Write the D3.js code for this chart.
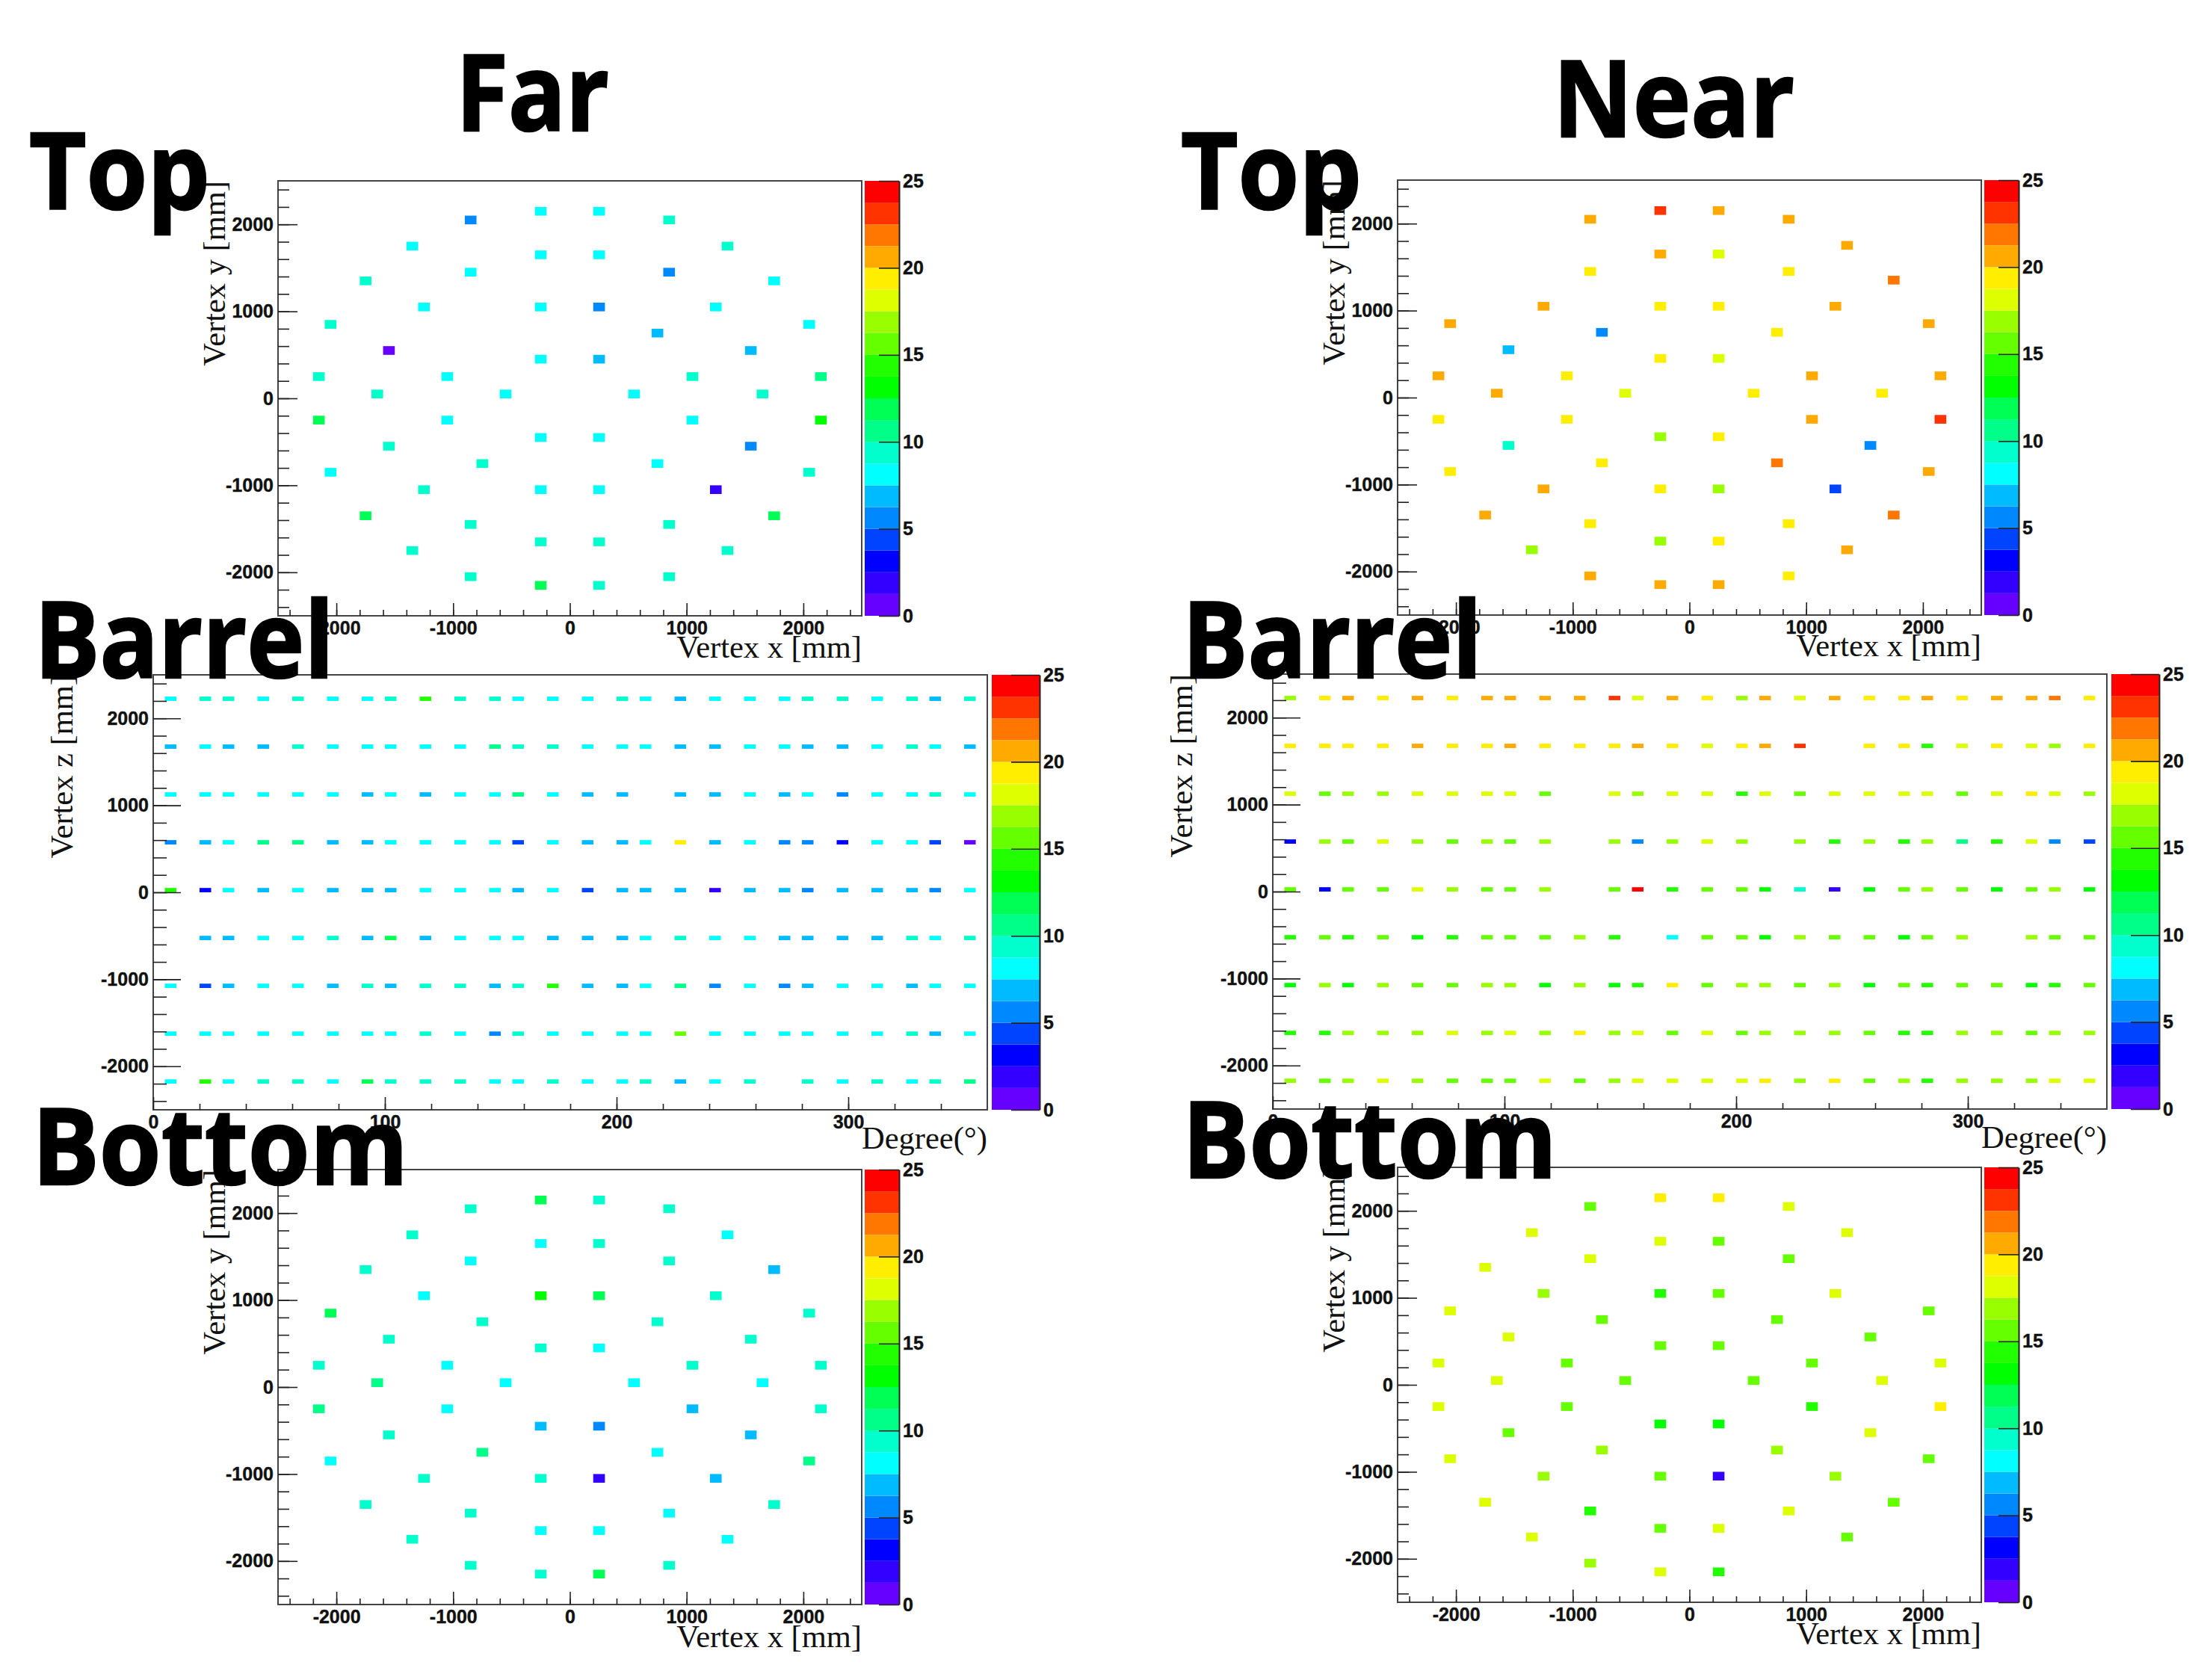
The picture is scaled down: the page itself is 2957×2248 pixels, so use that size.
<!DOCTYPE html>
<html>
<head>
<meta charset="utf-8">
<title>Far / Near vertex maps</title>
<script src="https://cdn.jsdelivr.net/npm/d3@7"></script>
<style>
body { margin: 0; background: #fff; }
svg { display: block; }
.tick text { font-family: "Liberation Sans", Arial, sans-serif; font-weight: bold; font-size: 25px; fill: #111; stroke: #111; stroke-width: 0.4; }
.tick line { stroke: #222; stroke-width: 1.6; }
.title { font-family: "Liberation Serif", "Times New Roman", serif; font-size: 42.5px; fill: #111; }
.big { font-family: "Open Sans", sans-serif; font-weight: 700; font-size: 142px; fill: #000; stroke: #000; stroke-width: 2.5; }
</style>
</head>
<body>
<script>
// colour bar bands, bottom to top
var palette = ["#6600ff","#3300ff","#0000ff","#0044ff","#0088ff","#00bbff","#00ffff","#00ffcc","#00ff88","#00ff55",
    "#00ff00","#22ff00","#66ff00","#99ff00","#ddff00","#ffee00","#ffaa00","#ff7700","#ff3300","#ff0000"];
var colorTicks = [0, 5, 10, 15, 20, 25];

// PMT layout on the top and bottom discs (mm)
var discRowY = [2150, 2050, 1750, 1650, 1450, 1350, 1050, 850, 750, 550, 450, 250, 50,
    -250, -450, -550, -750, -850, -1050, -1350, -1450, -1650, -1750, -2050, -2150];
var discRowX = [[-250,250],[-850,850],[-1350,1350],[-250,250],[-850,850],[-1750,1750],[-1250,-250,250,1250],
    [-2050,2050],[-750,750],[-1550,1550],[-250,250],[-2150,-1050,1050,2150],[-1650,-550,550,1650],
    [-2150,-1050,1050,2150],[-250,250],[-1550,1550],[-750,750],[-2050,2050],[-1250,-250,250,1250],
    [-1750,1750],[-850,850],[-250,250],[-1350,1350],[-850,850],[-250,250]];

var farTop = [[8,8],[5.6,9.4],[8,9.4],[8,8],[8,5.6],[9.4,8],[8,8,5.6,8],
    [9.4,8],[null,7],[0.6,7],[8,7],[9.4,8,9.4,10.6],[9.4,8,8,9.4],
    [12,8,8,13],[8,8],[9.4,5.6],[9.4,8],[8,9.4],[9.4,8,8,2],
    [12,12],[9.4,9.4],[9.4,9.4],[9.4,9.4],[9.4,9.4],[12,9.4]];
var nearTop = [[23,20.6],[20.6,20.6],[null,20.6],[20.6,18],[19.4,19.4],[null,22],[20.6,19.4,19.4,20.6],
    [20.6,20.6],[5.6,19.4],[7,null],[19.4,18],[20.6,19.4,20.6,20.6],[20.6,18,19.4,19.4],
    [19.4,19.4,20.6,23],[17,19],[9.4,5.6],[19.4,22],[19.4,20.6],[20.6,19.4,17,4.4],
    [20.6,22],[19.4,19.4],[17,19],[17,20.6],[20.6,19.4],[20.6,20.6]];
var farBottom = [[12,9.4],[9.4,9.4],[9.4,8],[8,9.4],[8,9.4],[9.4,7],[8,12.6,12,9.4],
    [12,9.4],[9.4,9.4],[9.4,9.4],[9.4,8],[9.4,8,9.4,9.4],[11,8,8,8],
    [11,8,7,9.4],[6.5,5.6],[9.4,7],[11,8],[8,11],[9.4,9.4,2,7],
    [9.4,9.4],[9.4,8],[8,8],[9.4,8],[9.4,9.4],[9.4,12]];
var nearBottom = [[19.4,19.4],[15.6,18],[18,18],[18,16],[18,16],[18,null],[17,14,16,18.5],
    [18,16],[16,16],[18,16],[16,16],[18,16,16,18],[18,16,16,18],
    [18,16,14.4,19.4],[13.5,13.5],[16,18],[17,17],[18,15.6],[17,16,2,16.5],
    [18,16],[14,18],[16,18],[18,16],[17,null],[18,14]];

// barrel bins: 26 columns (degrees), 9 rings (mm)
var barrelDeg = [7.5,22.5,32.5,47.5,62.5,77.5,92.5,102.5,117.5,132.5,147.5,157.5,172.5,187.5,
    202.5,212.5,227.5,242.5,257.5,272.5,282.5,297.5,312.5,327.5,337.5,352.5];
var barrelZ = [2225, 1675, 1125, 575, 25, -525, -1075, -1625, -2175];

var farBarrel = [
    [8,9.4,9.4,8,9.4,8,8,9.4,14,9.4,9.4,8,8,8,9.4,8,7,8,8,8,9.4,9.4,8,9.4,7,9.4],
    [7,8,7,7,9.4,8,8,8,8,8,11,9.4,9.4,8,8,8,7,7,8,8,7,7,8,9.4,8,7],
    [8,8,8,8,8,8,7,8,7,8,8,10.6,8,7,7,null,7,7,8,7,8,5.6,8,8,9.4,8],
    [5.6,7,8,11,11,7,7,8,8,8,8,4.4,8,7,7,8,19.4,7,8,5.6,5.6,3,8,8,4.4,0.6],
    [14.4,3,8,7,8,7,7,7,8,8,8,7,8,4.4,7,7,7,2,7,7,5.6,7,7,7,5.6,8],
    [null,7,7,8,8,9.4,7,12,7,8,8,8,7,7,7,8,9.4,8,8,7,7,7,7,9.4,8,9.4],
    [8,4,7,8,8,7,9.4,7,9.4,9.4,7,9.4,14.4,7,7,8,10.6,5.6,8,5.6,7,8,8,7,8,8],
    [8,8,8,8,8,8,8,8,9.4,8,5.6,9.4,8,8,8,8,15.6,8,8,8,8,8,8,9.4,7,8],
    [8,14.4,8,9.4,9.4,8,12,9.4,9.4,9.4,8,8,9.4,8,8,9.4,7,8,9.4,null,9.4,8,9.4,8,9.4,11]];
var nearBarrel = [
    [17,19.4,20.6,19.4,20.6,19.4,20.6,20.6,20.6,20.6,23,18,20.6,19.4,17,20.6,18,20.6,19.4,19.4,20.6,19.4,20.6,20.6,22,19.4],
    [19.4,19.4,19.4,19.4,20.6,19.4,19.4,20.6,19.4,19.4,19.4,20.6,19.4,18,19.4,20.6,23,null,19.4,19.4,14,18,19.4,18,17,19.4],
    [18,15.6,17,17,18,18,18,18,15,null,18,17,18,18,14,18,15.6,18,18,18,18,15.6,18,19.4,18,17],
    [3,17,15.6,18,17,15.6,17,15.6,17,null,17,5.6,17,18,17,null,17,14,17,14,17,11,14,18,5.6,4.4],
    [15.6,3,15.6,15.6,18,17,15.6,15.6,17,null,15.6,24.4,14,15.6,15.6,13,9.4,2,13,15.6,17,15.6,13,15.6,17,13],
    [14,15.6,14,15.6,13,14,15.6,15.6,15.6,17,14,null,8,15.6,15.6,13,17,15.6,15.6,13,15.6,17,null,17,15.6,15.6],
    [13,17,13,17,15.6,15.6,17,17,13,17,13,14,19.4,15.6,17,17,15.6,17,13,15.6,14,15.6,15.6,13,14,15.6],
    [14,14,17,17,17,18,17,18,17,19.4,17,18,15.6,18,15.6,17,17,17,15.6,14,14,17,17,15.6,17,17],
    [17,15.6,17,18,17,15.6,15.6,15.6,18,15.6,17,18,18,18,18,19.4,17,19.4,15.6,17,14,17,17,17,18,18]];

var discXTicks = [-2000, -1000, 0, 1000, 2000];
var discYTicks = [-2000, -1000, 0, 1000, 2000];
var barrelXTicks = [0, 100, 200, 300];
var barrelZTicks = [-2000, -1000, 0, 1000, 2000];

var colorScale = d3.scaleQuantize().domain([0, 25]).range(palette);
var plain = function(d) { return String(d); };

var svg = d3.select("body").append("svg")
    .attr("width", 2957)
    .attr("height", 2248);

function discCells(values) {
    var cells = [];
    values.forEach(function(row, r) {
        row.forEach(function(v, c) {
            if (v !== null) cells.push({x: discRowX[r][c], y: discRowY[r], v: v});
        });
    });
    return cells;
}

function barrelCells(values) {
    var cells = [];
    values.forEach(function(row, r) {
        row.forEach(function(v, c) {
            if (v !== null) cells.push({x: barrelDeg[c], y: barrelZ[r], v: v});
        });
    });
    return cells;
}

// one histogram panel, p holds the frame and colour bar edges
function drawPanel(p) {
    var x = d3.scaleLinear().domain(p.xDomain).range([p.left, p.right]);
    var y = d3.scaleLinear().domain([-2500, 2500]).range([p.bottom, p.top]);
    var z = d3.scaleLinear().domain([0, 25]).range([p.bottom, p.top]);
    var g = svg.append("g");

    g.selectAll("rect.cell")
        .data(p.cells)
        .enter()
        .append("rect")
        .attr("class", "cell")
        .attr("x", function(d) { return x(d.x - p.binX / 2); })
        .attr("width", function(d) { return x(d.x + p.binX / 2) - x(d.x - p.binX / 2); })
        .attr("y", function(d) { return y(d.y + p.binY / 2); })
        .attr("height", function(d) { return y(d.y - p.binY / 2) - y(d.y + p.binY / 2); })
        .attr("fill", function(d) { return colorScale(d.v); });

    g.append("rect")
        .attr("x", p.left).attr("y", p.top)
        .attr("width", p.right - p.left).attr("height", p.bottom - p.top)
        .attr("fill", "none").attr("stroke", "#444").attr("stroke-width", 2);

    // minor ticks first, majors with labels over them
    var xMinor = d3.axisBottom(x).tickValues(p.xMinor).tickSizeInner(-8).tickSizeOuter(0).tickFormat("");
    var yMinor = d3.axisLeft(y).tickValues(d3.range(-2400, 2401, 200)).tickSizeInner(-p.yMinorLen).tickSizeOuter(0).tickFormat("");
    var xMajor = d3.axisBottom(x).tickValues(p.xTicks).tickSizeInner(-17).tickSizeOuter(0).tickPadding(7).tickFormat(plain);
    var yMajor = d3.axisLeft(y).tickValues(p.yTicks).tickSizeInner(-p.yMajorLen).tickSizeOuter(0).tickPadding(6).tickFormat(plain);

    [xMinor, xMajor].forEach(function(a) {
        var ag = g.append("g").attr("transform", "translate(0," + p.bottom + ")").call(a);
        ag.select(".domain").remove();
    });
    [yMinor, yMajor].forEach(function(a) {
        var ag = g.append("g").attr("transform", "translate(" + p.left + ",0)").call(a);
        ag.select(".domain").remove();
    });

    // colour bar
    g.selectAll("rect.band")
        .data(palette)
        .enter()
        .append("rect")
        .attr("class", "band")
        .attr("x", p.barLeft)
        .attr("width", p.barRight - p.barLeft)
        .attr("y", function(d, i) { return z((i + 1) * 1.25); })
        .attr("height", function(d, i) { return z(i * 1.25) - z((i + 1) * 1.25); })
        .attr("fill", function(d) { return d; });

    var barAxis = d3.axisRight(z).tickValues(colorTicks)
        .tickSizeInner(-p.barTick).tickSizeOuter(0).tickPadding(5).tickFormat(plain);
    var bg = g.append("g").attr("transform", "translate(" + p.barRight + ",0)").call(barAxis);
    bg.select(".domain").attr("stroke", "#222").attr("stroke-width", 2);

    g.append("text").attr("class", "title")
        .attr("x", p.right).attr("y", p.xTitleY)
        .attr("text-anchor", "end")
        .text(p.xTitle);

    g.append("text").attr("class", "title")
        .attr("transform", "translate(" + p.yTitleX + "," + p.top + ") rotate(-90)")
        .attr("text-anchor", "end")
        .text(p.yTitle);
}

function discPanel(left, top, values, xTitleY) {
    drawPanel({
        left: left, right: left + 781, top: top, bottom: top + 582,
        barLeft: left + 785, barRight: left + 831, barTick: 27,
        xDomain: [-2500, 2500], binX: 100, binY: 100,
        xTicks: discXTicks, yTicks: discYTicks, xMinor: d3.range(-2400, 2401, 200),
        yMajorLen: 26, yMinorLen: 15,
        cells: discCells(values),
        xTitle: "Vertex x [mm]", yTitle: "Vertex y [mm]",
        xTitleY: xTitleY, yTitleX: left - 71
    });
}

function barrelPanel(left, top, values) {
    drawPanel({
        left: left, right: left + 1116, top: top, bottom: top + 582,
        barLeft: left + 1122, barRight: left + 1186, barTick: 38,
        xDomain: [0, 360], binX: 5, binY: 50,
        xTicks: barrelXTicks, yTicks: barrelZTicks, xMinor: d3.range(20, 360, 20),
        yMajorLen: 37, yMinorLen: 18,
        cells: barrelCells(values),
        xTitle: "Degree(°)", yTitle: "Vertex z [mm]",
        xTitleY: top + 634, yTitleX: left - 108
    });
}

discPanel(372, 242, farTop, 880);
discPanel(1870, 241, nearTop, 878);
barrelPanel(205, 903, farBarrel);
barrelPanel(1703, 902, nearBarrel);
discPanel(372, 1565, farBottom, 2204);
discPanel(1870, 1562, nearBottom, 2200);

// big slide labels sit on top of the panels
var bigLabels = ["Far", "Near", "Top", "Top", "Barrel", "Barrel", "Bottom", "Bottom"];
var bigStart = [610, 2078, 39, 1580, 46, 1582, 43, 1582];
var bigEnd = [815, 2401, 281, 1822, 447, 1983, 546, 2083];
var bigBase = [175, 183, 280, 280, 907, 907, 1585, 1576];

svg.selectAll("text.big")
    .data(bigLabels)
    .enter()
    .append("text")
    .attr("class", "big")
    .attr("x", function(d, i) { return bigStart[i]; })
    .attr("y", function(d, i) { return bigBase[i]; })
    .attr("textLength", function(d, i) { return bigEnd[i] - bigStart[i]; })
    .attr("lengthAdjust", "spacingAndGlyphs")
    .text(function(d) { return d; });
</script>
</body>
</html>
